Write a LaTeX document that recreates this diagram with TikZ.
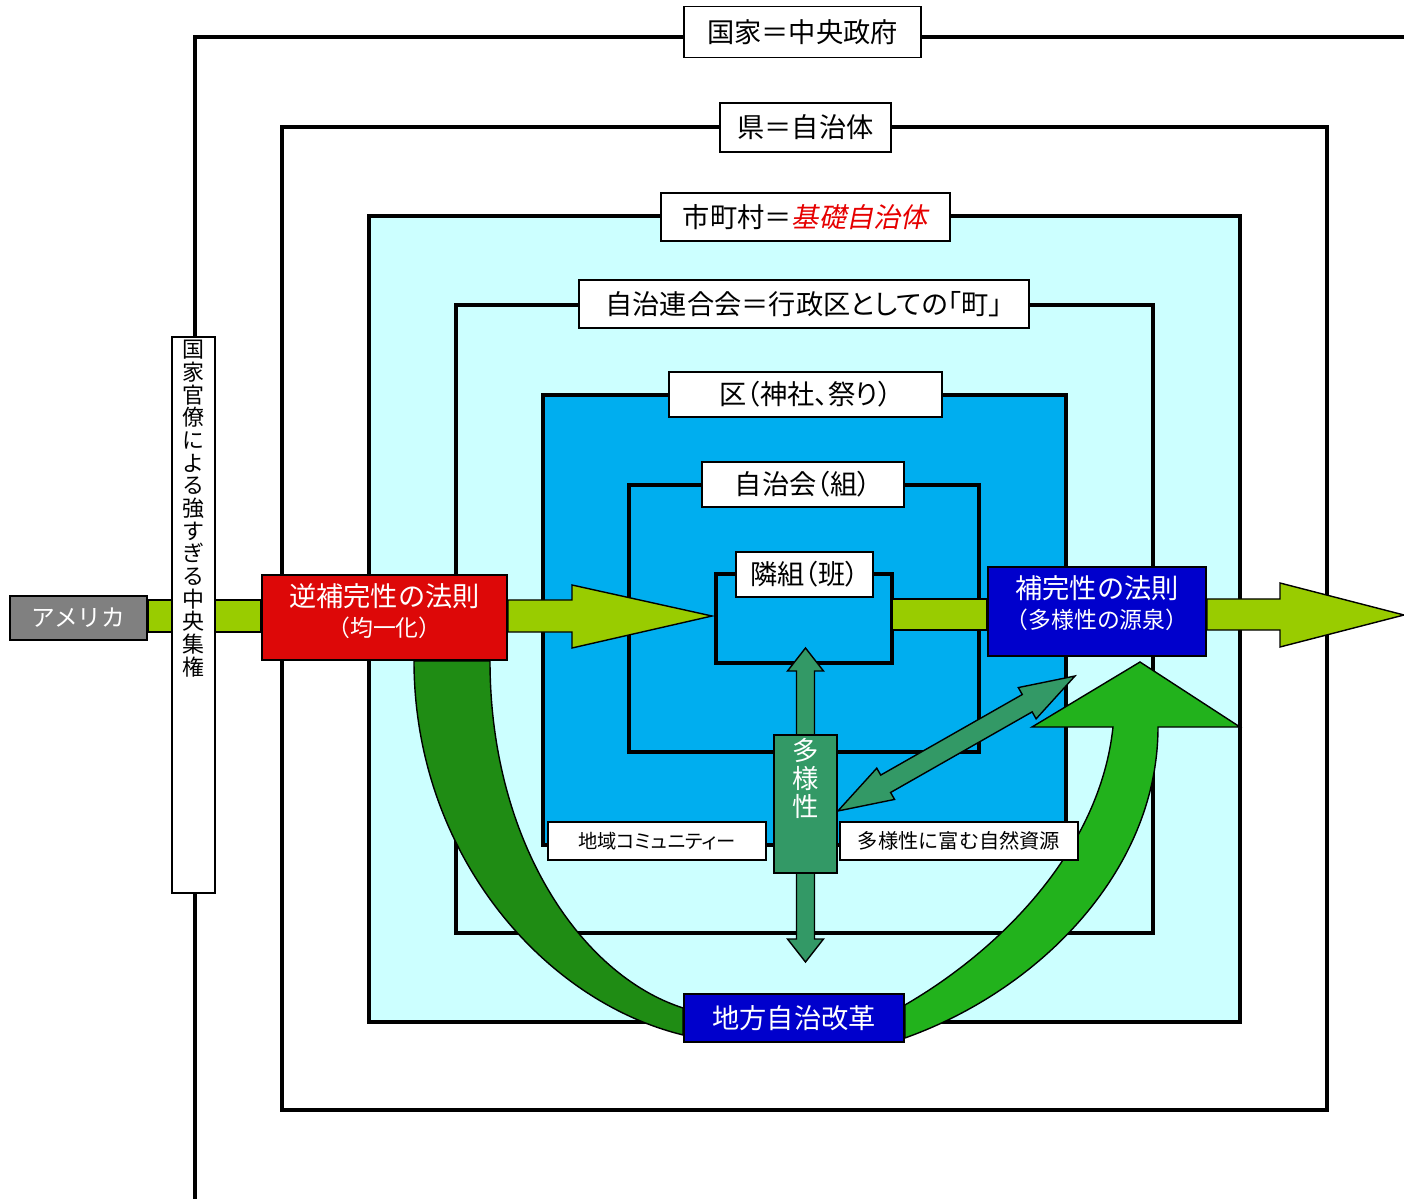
\documentclass[tikz,border=0pt]{standalone}
\usepackage{fontspec}
\setmainfont{Noto Sans CJK JP}
\newfontfamily\slantjp[FakeSlant=0.2]{Noto Sans CJK JP}
\newfontfamily\paltjp[RawFeature=+palt]{Noto Sans CJK JP}
\usetikzlibrary{calc}

\definecolor{cityfill}{RGB}{204,255,255}
\definecolor{wardfill}{RGB}{0,174,239}
\definecolor{bargreen}{RGB}{153,204,0}
\definecolor{divgreen}{RGB}{51,153,102}
\definecolor{darkgreen}{RGB}{31,140,20}
\definecolor{brightgreen}{RGB}{34,178,28}
\definecolor{lawred}{RGB}{221,8,8}
\definecolor{lawblue}{RGB}{0,0,204}
\definecolor{usagray}{RGB}{128,128,128}
\definecolor{kisored}{RGB}{230,0,0}

\pgfdeclarelayer{frames}
\pgfdeclarelayer{arrows}
\pgfsetlayers{frames,arrows,main}

\tikzset{
  layerframe/.style={line width=2.3pt},
  lbl/.style={draw, fill=white, line width=1pt, inner sep=0pt, font=\fontsize{15.5}{17}\selectfont},
  law/.style={draw, line width=1pt, text=white, align=center, inner sep=0pt, font=\fontsize{15.5}{17}\selectfont},
  greenbar/.style={fill=bargreen, draw, line width=0.8pt},
  divarrow/.style={fill=divgreen, draw, line width=0.8pt},
}

\newcommand\subjp{\fontsize{13}{15}\selectfont}

% tips #1 and #2, head length #3, head half width #4, shaft half width #5
\newcommand\fatdbl[5]{%
  \coordinate (h1) at ($(#1)!#3!(#2)$);
  \coordinate (h2) at ($(#2)!#3!(#1)$);
  \filldraw[divarrow] (#1) -- ($(h1)!#4!90:(#2)$) -- ($(h1)!#5!90:(#2)$)
    -- ($(h2)!#5!-90:(#1)$) -- ($(h2)!#4!-90:(#1)$) -- (#2)
    -- ($(h2)!#4!90:(#1)$) -- ($(h2)!#5!90:(#1)$)
    -- ($(h1)!#5!-90:(#2)$) -- ($(h1)!#4!-90:(#2)$) -- cycle;
}

\begin{document}
\begin{tikzpicture}[x=0.02cm, y=-0.02cm]
\useasboundingbox (0,0) rectangle (1404,1199);

\begin{pgfonlayer}{frames}
\draw[layerframe] (1404,37) -- (195,37) -- (195,1199);
\foreach \xa/\ya/\xb/\yb/\col in {282/127/1327/1110/white, 369/216/1240/1022/cityfill,
   456/305/1153/933/cityfill, 543/395/1066/845/wardfill, 629/485/979/752/wardfill,
   716/574/892/663/wardfill}
  \filldraw[layerframe, fill=\col] (\xa,\ya) rectangle (\xb,\yb);
\end{pgfonlayer}

\node[lbl, minimum width=4.74cm, minimum height=1.02cm] (kokka) at (802.5,32) {国家＝中央政府};
\node[lbl, minimum width=3.42cm, minimum height=0.98cm] (ken) at (805.5,127.5) {県＝自治体};
\node[lbl, minimum width=5.78cm, minimum height=0.96cm] (shichoson) at (805.5,217) {市町村＝{\slantjp\color{kisored}基礎自治体}};
\node[lbl, minimum width=9cm, minimum height=0.96cm] (rengo) at (804,304) {\paltjp 自治連合会＝行政区としての「町」};
\node[lbl, minimum width=5.46cm, minimum height=0.9cm] (ku) at (805.5,394.5) {\paltjp 区（神社、祭り）};
\node[lbl, minimum width=4.04cm, minimum height=0.9cm] (jichikai) at (803,484.5) {\paltjp 自治会（組）};
\node[lbl, minimum width=2.74cm, minimum height=0.9cm] (tonari) at (804.5,574.5) {\paltjp 隣組（班）};

\node[law, fill=usagray, minimum width=2.74cm, minimum height=0.88cm, font=\fontsize{13.5}{15}\selectfont] (usa) at (78.5,618) {アメリカ};
\node[draw, fill=white, line width=1pt, minimum width=0.86cm, minimum height=11.12cm] (kanryo) at (193.5,615) {};
\node[anchor=north, align=center, inner sep=0pt, font=\fontsize{12.5}{12.9}\selectfont] (kanryotxt)
  at ($(kanryo.north)+(0,4)$) {国\\家\\官\\僚\\に\\よ\\る\\強\\す\\ぎ\\る\\中\\央\\集\\権};
\node[law, fill=lawred, minimum width=4.9cm, minimum height=1.7cm, text depth=0.3cm] (gyaku) at (384.5,617.5) {逆補完性の法則\\{\subjp （均一化）}};
\node[law, fill=lawblue, minimum width=4.36cm, minimum height=1.78cm, text depth=0.38cm] (hokan) at (1097,611.5) {補完性の法則\\{\subjp （多様性の源泉）}};
\node[law, fill=lawblue, minimum width=4.4cm, minimum height=0.96cm] (kaikaku) at (794,1018) {地方自治改革};
\node[lbl, minimum width=4.36cm, minimum height=0.76cm, font=\fontsize{11}{13}\selectfont] (chiiki) at (657,841) {\paltjp 地域コミュニティー};
\node[lbl, minimum width=4.76cm, minimum height=0.76cm, font=\fontsize{11.5}{13}\selectfont] (shigen) at (959,841) {多様性に富む自然資源};
\node[draw, fill=divgreen, line width=1pt, minimum width=1.26cm, minimum height=2.76cm] (tayo) at (805.5,804) {};
\node[anchor=north, align=center, text=white, inner sep=0pt, font=\fontsize{15}{16}\selectfont] (tayotxt)
  at ($(tayo.north)+(0,4)$) {多\\様\\性};

\coordinate (ltip) at (712,616);
\coordinate (rtip) at (1404,615);
\coordinate (uptip) at (1140,662);
\coordinate (vtop) at (tayo.north |- 0,648);
\coordinate (vbot) at (tayo.south |- 0,962);
\coordinate (dlow) at (tayo.east |- 0,811);
\coordinate (dup) at (1075,676);

\begin{pgfonlayer}{arrows}
\filldraw[greenbar] (usa.east |- 0,600) rectangle (gyaku.west |- 0,632);
\filldraw[greenbar] (gyaku.east |- 0,600) -- (572,600) -- (572,585) -- (ltip)
  -- (572,648) -- (572,632) -- (gyaku.east |- 0,632) -- cycle;
\filldraw[greenbar] (892,599) rectangle (hokan.west |- 0,630);
\filldraw[greenbar] (hokan.east |- 0,599) -- (1280,599) -- (1280,583) -- (rtip)
  -- (1280,647) -- (1280,630) -- (hokan.east |- 0,630) -- cycle;

\filldraw[fill=darkgreen, line width=0.8pt] (gyaku.south -| 414,0) .. controls (414,850) and (540,1000) .. (kaikaku.west |- 0,1035)
  -- (kaikaku.west |- 0,1008) .. controls (580,975) and (490,840) .. (gyaku.south -| 490,0) -- cycle;
\filldraw[fill=brightgreen, line width=0.8pt] (kaikaku.east |- 0,1005) .. controls (1000,950) and (1100,850) .. (1113,727)
  -- (1032,727) -- (uptip) -- (1240,727) -- (1158,727)
  .. controls (1158,870) and (1040,990) .. (kaikaku.east |- 0,1038) -- cycle;

\fatdbl{vtop}{vbot}{0.46cm}{0.36cm}{0.18cm}
\fatdbl{dlow}{dup}{1.1cm}{0.36cm}{0.2cm}
\end{pgfonlayer}

\end{tikzpicture}
\end{document}
